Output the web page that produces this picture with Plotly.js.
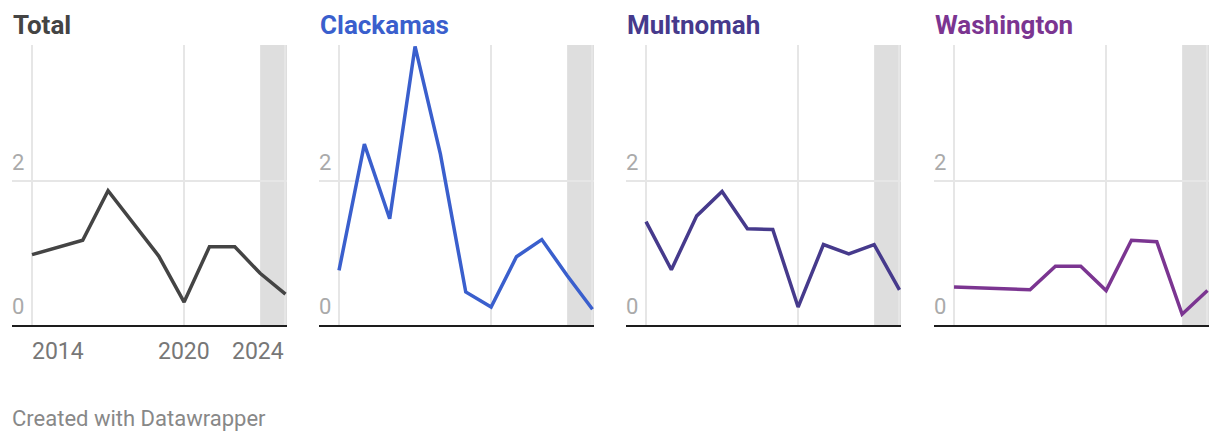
<!DOCTYPE html>
<html>
<head>
<meta charset="utf-8">
<script src="https://cdn.plot.ly/plotly-3.0.1.min.js"></script>
<style>
  html, body { margin: 0; padding: 0; background: #fff; }
  #chart { width: 1220px; height: 442px; }
</style>
</head>
<body>
<div id="chart"></div>
<script>
// ---- data ----
const years = [2014, 2015, 2016, 2017, 2018, 2019, 2020, 2021, 2022, 2023, 2024];
const total      = [0.98, 1.08, 1.18, 1.87, 1.42, 0.96, 0.32, 1.09, 1.09, 0.72, 0.43];
const clackamas  = [0.76, 2.52, 1.48, 3.88, 2.38, 0.46, 0.25, 0.95, 1.19, 0.69, 0.22];
const multnomah  = [1.44, 0.77, 1.52, 1.86, 1.34, 1.33, 0.25, 1.12, 0.99, 1.12, 0.49];
const washington = [0.53, 0.52, 0.51, 0.49, 0.82, 0.82, 0.48, 1.18, 1.16, 0.15, 0.48];

const panelNames = ["Total", "Clackamas", "Multnomah", "Washington"];
const panelSeries = [total, clackamas, multnomah, washington];
const panelColors = ["#444444", "#3a5fcd", "#463a8c", "#7b3591"];

const xTickVals = [2014, 2020, 2024];
const xTickLabels = ["2014", "2020", "2024"];
const xTickAnchors = ["left", "center", "right"];
const yTickVals = [0, 2];
const yTickLabels = ["0", "2"];
const shadeStart = 2023;
const footer = "Created with Datawrapper";

// ---- layout geometry ----
const W = 1220, H = 442;
const panelLefts = [12, 319, 626, 934];
const panelWidth = 275;
const xRange = [2013.21, 2024.06];
const yRange = [0, 3.9];
const plotTop = 45, plotBottom = 325;
const yDomain = [(H - plotBottom) / H, (H - plotTop) / H];

const data = [];
const layout = {
  width: W, height: H,
  margin: {l: 0, r: 0, t: 0, b: 0},
  paper_bgcolor: "#ffffff",
  plot_bgcolor: "#ffffff",
  showlegend: false,
  font: {family: "Roboto, sans-serif"},
  annotations: [],
  shapes: []
};

panelNames.forEach((name, i) => {
  const n = i === 0 ? "" : String(i + 1);
  const xa = "x" + n, ya = "y" + n;
  data.push({
    type: "scatter", mode: "lines",
    x: years, y: panelSeries[i],
    xaxis: xa, yaxis: ya,
    line: {color: panelColors[i], width: 3.5},
    hoverinfo: "skip"
  });
  layout["xaxis" + n] = {
    domain: [panelLefts[i] / W, (panelLefts[i] + panelWidth) / W],
    range: xRange, anchor: ya,
    tickvals: xTickVals, showticklabels: false, ticks: "",
    showgrid: true, gridcolor: "#e6e6e6", gridwidth: 2,
    zeroline: false, showline: true, linecolor: "#1d1d1d", linewidth: 2,
    fixedrange: true
  };
  layout["yaxis" + n] = {
    domain: yDomain, range: yRange, anchor: xa,
    tickvals: yTickVals, showticklabels: false, ticks: "",
    showgrid: true, gridcolor: "#e6e6e6", gridwidth: 2,
    zeroline: false, showline: false, fixedrange: true
  };
  layout.shapes.push({
    type: "rect", layer: "below",
    xref: xa, x0: shadeStart, x1: xRange[1],
    yref: ya + " domain", y0: 0, y1: 1,
    fillcolor: "#dedede", line: {width: 0}
  });
  // panel title
  layout.annotations.push({
    text: name, showarrow: false,
    xref: "paper", x: (panelLefts[i] - 1) / W, xanchor: "left",
    yref: "paper", y: (H - 25) / H, yanchor: "middle",
    font: {family: "Roboto, sans-serif", size: 26, weight: 700, color: panelColors[i]}
  });
  // y labels above gridlines
  yTickVals.forEach((v, k) => {
    layout.annotations.push({
      text: yTickLabels[k], showarrow: false,
      xref: xa + " domain", x: 0, xanchor: "left", xshift: -2,
      yref: ya, y: v, yanchor: "bottom", yshift: 4,
      font: {family: "Roboto, sans-serif", size: 22, color: "#aaaaaa"}
    });
  });
});

// x tick labels on first panel only
xTickVals.forEach((v, k) => {
  layout.annotations.push({
    text: xTickLabels[k], showarrow: false,
    xref: "x", x: v, xanchor: xTickAnchors[k], xshift: xTickAnchors[k] === "left" ? -2 : (xTickAnchors[k] === "right" ? 1 : 0),
    yref: "paper", y: (H - 351) / H, yanchor: "middle",
    font: {family: "Roboto, sans-serif", size: 23, color: "#777777"}
  });
});

// footer
layout.annotations.push({
  text: footer, showarrow: false,
  xref: "paper", x: 10 / W, xanchor: "left",
  yref: "paper", y: (H - 418) / H, yanchor: "middle",
  font: {family: "Roboto, sans-serif", size: 22, color: "#888888"}
});

Plotly.newPlot("chart", data, layout, {displayModeBar: false, staticPlot: true});
</script>
</body>
</html>
